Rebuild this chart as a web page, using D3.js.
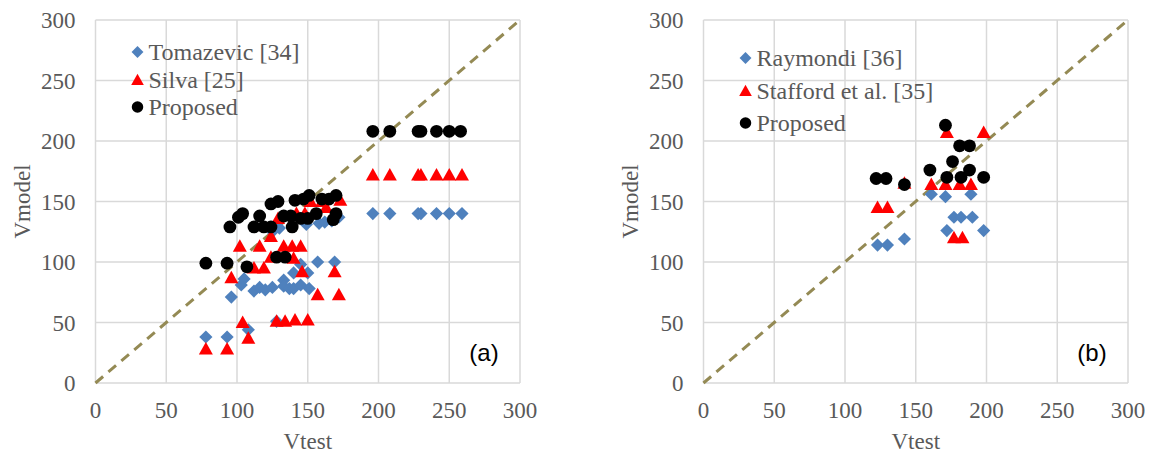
<!DOCTYPE html>
<html>
<head>
<meta charset="utf-8">
<script src="https://cdn.jsdelivr.net/npm/d3@7"></script>
<style>
  body { margin: 0; background: #fff; }
  svg text { font-family: "Liberation Serif", "Times New Roman", "DejaVu Serif", serif; }
  svg text.tag { font-family: "Liberation Sans", Arial, sans-serif; }
</style>
</head>
<body>
<div id="chart"></div>
<script>
// tick values shared by both axes of both panels
const ticks = [0, 50, 100, 150, 200, 250, 300]

// panel (a)
const tomazevic = [
  [78, 38], [93, 38], [96, 71], [103, 81], [105, 86], [108, 44], [112, 76],
  [116, 79], [120, 77], [125, 79], [128, 51], [133, 85], [133, 80], [137, 78],
  [140, 78], [140, 91], [145, 81], [145, 98], [150, 91], [151, 78], [157, 100],
  [169, 100], [125, 125], [130, 128], [149, 131], [158, 132], [162, 133],
  [167, 134], [172, 137],
  [196, 140], [208, 140], [228, 140], [230, 140], [241, 140], [250, 140], [259, 140]
]
const silva = [
  [78, 28], [93, 28], [96, 87], [104, 50], [108, 37], [102, 113], [116, 113],
  [112, 95], [119, 95], [124, 121], [124, 104], [128, 51], [134, 51], [141, 52],
  [150, 52], [133, 113], [139, 113], [145, 113], [140, 103], [146, 92], [157, 73],
  [172, 73], [169, 92], [129, 136], [142, 140], [148, 140], [163, 145], [173, 151],
  [152, 150], [160, 150],
  [196, 172], [208, 172], [228, 172], [230, 172], [241, 172], [250, 172], [259, 172]
]
const proposedA = [
  [78, 99], [93, 99], [107, 96], [128, 104], [134, 104], [95, 129], [101, 137],
  [104, 140], [112, 129], [116, 138], [119, 129], [124, 129], [124, 148], [129, 150],
  [133, 138], [138, 138], [139, 129], [141, 151], [147, 152], [151, 155], [145, 136],
  [150, 136], [156, 140], [160, 152], [165, 152], [170, 155], [170, 140], [168, 135],
  [196, 208], [208, 208], [228, 208], [230, 208], [241, 208], [250, 208], [258, 208]
]

// panel (b)
const raymondi = [
  [123, 114], [130, 114], [142, 119], [161, 156], [171, 154], [177, 137],
  [182, 137], [190, 137], [172, 126], [198, 126], [189, 156]
]
const stafford = [
  [123, 145], [130, 145], [142, 165], [161, 164], [171, 164], [181, 164],
  [189, 164], [172, 207], [198, 207], [177, 120], [183, 120]
]
const proposedB = [
  [122, 169], [129, 169], [142, 164], [171, 213], [181, 196], [188, 196],
  [176, 183], [160, 176], [172, 170], [182, 170], [188, 176], [198, 170]
]

const legendA = ['Tomazevic [34]', 'Silva [25]', 'Proposed']
const legendB = ['Raymondi [36]', 'Stafford et al. [35]', 'Proposed']

const width = 1149
const height = 458
const plotW = 424.5
const plotTop = 20
const plotBottom = 383

const svg = d3
  .select('#chart')
  .append('svg')
  .attr('width', width)
  .attr('height', height)
  .style('background', '#fff')

const markers = {
  diamond: 'M0,-6.6L6.6,0L0,6.6L-6.6,0Z',
  triangle: 'M0,-7L7,5.5L-7,5.5Z',
  circle: d3.symbol(d3.symbolCircle, Math.PI * 6.4 * 6.4)()
}
const colors = { diamond: '#4F81BD', triangle: '#FF0000', circle: '#000000' }
const kinds = ['diamond', 'triangle', 'circle']

const panels = [
  { left: 95.5, series: [tomazevic, silva, proposedA], legend: legendA, rows: [52, 80, 107], tag: '(a)' },
  { left: 703.5, series: [raymondi, stafford, proposedB], legend: legendB, rows: [58, 91, 123], tag: '(b)' }
]

panels.forEach(drawPanel)

function drawPanel(p) {
  const x = d3.scaleLinear().domain([0, 300]).range([p.left, p.left + plotW])
  const y = d3.scaleLinear().domain([0, 300]).range([plotBottom, plotTop])
  const g = svg.append('g')

  // gridlines
  g.selectAll('.vgrid')
    .data(ticks)
    .enter()
    .append('line')
    .attr('x1', d => x(d))
    .attr('x2', d => x(d))
    .attr('y1', plotTop)
    .attr('y2', plotBottom)
    .attr('stroke', '#D9D9D9')
    .attr('stroke-width', 1.5)
  g.selectAll('.hgrid')
    .data(ticks)
    .enter()
    .append('line')
    .attr('x1', x(0))
    .attr('x2', x(300))
    .attr('y1', d => y(d))
    .attr('y2', d => y(d))
    .attr('stroke', '#D9D9D9')
    .attr('stroke-width', 1.5)

  // tick labels
  g.selectAll('.xlab')
    .data(ticks)
    .enter()
    .append('text')
    .attr('x', d => x(d))
    .attr('y', 418)
    .attr('text-anchor', 'middle')
    .attr('font-size', 23)
    .attr('fill', '#595959')
    .text(d => d)
  g.selectAll('.ylab')
    .data(ticks)
    .enter()
    .append('text')
    .attr('x', x(0) - 20)
    .attr('y', d => y(d) + 8)
    .attr('text-anchor', 'end')
    .attr('font-size', 23)
    .attr('fill', '#595959')
    .text(d => d)

  // axis titles
  g.append('text')
    .attr('x', (x(0) + x(300)) / 2)
    .attr('y', 449)
    .attr('text-anchor', 'middle')
    .attr('font-size', 23)
    .attr('fill', '#595959')
    .text('Vtest')
  g.append('text')
    .attr('transform', 'translate(' + (x(0) - 66) + ',' + ((plotTop + plotBottom) / 2) + ') rotate(-90)')
    .attr('text-anchor', 'middle')
    .attr('font-size', 23)
    .attr('fill', '#595959')
    .text('Vmodel')

  // 1:1 line
  g.append('line')
    .attr('x1', x(0))
    .attr('y1', y(0))
    .attr('x2', x(300))
    .attr('y2', y(300))
    .attr('stroke', '#948A54')
    .attr('stroke-width', 3)
    .attr('stroke-dasharray', '10,7')

  // points
  p.series.forEach((data, i) => {
    g.append('g')
      .selectAll('path')
      .data(data)
      .enter()
      .append('path')
      .attr('d', markers[kinds[i]])
      .attr('transform', d => 'translate(' + x(d[0]) + ',' + y(d[1]) + ')')
      .attr('fill', colors[kinds[i]])
  })

  // legend
  const leg = g.append('g')
  p.legend.forEach((name, i) => {
    leg.append('path')
      .attr('d', markers[kinds[i]])
      .attr('transform', 'translate(' + (p.left + 42) + ',' + p.rows[i] + ') scale(0.9)')
      .attr('fill', colors[kinds[i]])
    leg.append('text')
      .attr('x', p.left + 53)
      .attr('y', p.rows[i] + 8)
      .attr('font-size', 24)
      .attr('fill', '#595959')
      .text(name)
  })

  // panel tag
  g.append('text')
    .attr('class', 'tag')
    .attr('x', x(300) - 36)
    .attr('y', 361)
    .attr('text-anchor', 'middle')
    .attr('font-size', 24)
    .attr('fill', '#000')
    .text(p.tag)
}
</script>
</body>
</html>
